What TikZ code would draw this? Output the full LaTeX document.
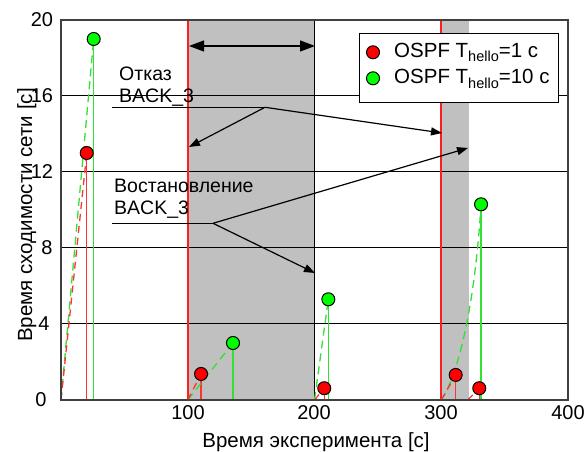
\documentclass[tikz,border=0pt]{standalone}
\usepackage{fontspec}
\setmainfont{Liberation Sans}
\usetikzlibrary{arrows.meta}

\definecolor{bandgray}{RGB}{192,192,192}
\definecolor{redline}{RGB}{255,50,50}
\definecolor{eventred}{RGB}{255,30,30}
\definecolor{greenline}{RGB}{50,225,50}
\definecolor{redmark}{RGB}{255,0,0}
\definecolor{greenmark}{RGB}{0,255,0}
\definecolor{framegray}{RGB}{64,64,64}

\newcommand{\hellosub}{\raisebox{-4.5pt}{\fontsize{14.5}{16}\selectfont hello}}

\tikzset{
  txt/.style={font=\fontsize{19.5}{23}\selectfont, inner sep=0pt},
  legtxt/.style={font=\fontsize{20.5}{24}\selectfont, inner sep=0pt},
  ticklbl/.style={font=\fontsize{20}{24}\selectfont, inner sep=0pt},
  axlbl/.style={font=\fontsize{20.5}{24}\selectfont, inner sep=0pt},
  gridln/.style={black, line width=1pt},
  eventln/.style={draw=eventred, line width=1.8pt},
  redstem/.style={redline, line width=1.3pt},
  greenstem/.style={greenline, line width=1.3pt},
  reddash/.style={redline, line width=1.3pt, dash pattern=on 7pt off 5pt},
  greendash/.style={greenline, line width=1.3pt, dash pattern=on 8pt off 5pt},
  redpt/.style={circle, draw=black, fill=redmark, line width=1pt, minimum size=13pt, inner sep=0pt},
  greenpt/.style={circle, draw=black, fill=greenmark, line width=1pt, minimum size=13pt, inner sep=0pt},
  ann/.style={black, line width=1.2pt},
  annarrow/.style={ann, -{Triangle[length=11pt,width=8pt]}},
}

\begin{document}
\begin{tikzpicture}[x=1pt,y=1pt]
\useasboundingbox (0,0) rectangle (586,452);

% ---------- plot area in data units (seconds, seconds) ----------
\begin{scope}[shift={(61pt,52pt)}, x=1.2675pt, y=19pt]
  % outage intervals
  \fill[bandgray] (100,0) rectangle (200,20);
  \fill[bandgray] (300,0) rectangle (322,20);

  % horizontal grid
  \foreach \v in {4,8,12,16} \draw[gridln] (0,\v) -- (400,\v);

  % base points of the series
  \coordinate (o0) at (0,0);
  \coordinate (o1) at (100,0);
  \coordinate (o2) at (200,0);
  \coordinate (o3) at (300,0);
  \coordinate (o4) at (321,0);
  \coordinate (e1) at (100,20);
  \coordinate (e2) at (200,20);
  \coordinate (e3) at (300,20);

  % failure / recovery instants
  \draw[eventln] (o1) -- (e1);
  \draw[eventln] (o3) -- (e3);
  \draw[black, line width=1pt] (o2) -- (e2);

  % marker positions
  \coordinate (r1) at (20.3,13);
  \coordinate (g1) at (25.8,19);
  \coordinate (r2) at (110.5,1.37);
  \coordinate (g2) at (135.7,3.0);
  \coordinate (r3) at (207.7,0.62);
  \coordinate (g3) at (210.9,5.3);
  \coordinate (r4) at (311.4,1.32);
  \coordinate (r5) at (330.0,0.62);
  \coordinate (g4) at (331.4,10.3);

  % stems
  \draw[redstem]   (r1) -- (r1 |- o0);
  \draw[greenstem] (g1) -- (g1 |- o0);
  \draw[redstem]   (r2) -- (r2 |- o0);
  \draw[greenstem] (g2) -- (g2 |- o0);
  \draw[redstem]   (r3) -- (r3 |- o0);
  \draw[greenstem] (g3) -- (g3 |- o0);
  \draw[redstem]   (r4) -- (r4 |- o0);
  \draw[redstem]   (r5) -- (r5 |- o0);
  \draw[greenstem] (g4) -- (g4 |- o0);

  % rising dashed traces
  \draw[greendash] (o0) -- (g1);
  \draw[reddash]   (o0) -- (r1);
  \draw[greendash] (o1) -- (g2);
  \draw[reddash]   (o1) -- (r2);
  \draw[greendash] (o2) -- (g3);
  \draw[reddash]   (o2) -- (r3);
  \draw[greendash] (o3) .. controls (312,1.2) and (326,4.5) .. (g4);
  \draw[reddash]   (o3) -- (r4);
  \draw[reddash]   (o4) -- (r5);

  % markers on top of the lines
  \foreach \n/\s in {r1/redpt, g1/greenpt, r2/redpt, g2/greenpt, r3/redpt,
                     g3/greenpt, r4/redpt, r5/redpt, g4/greenpt}
    \node[\s] (m\n) at (\n) {};

  % frame
  \draw[framegray, line width=1.3pt] (0,0) rectangle (400,20);
\end{scope}

% ---------- annotations, legend and labels in pixel units ----------
\begin{scope}[shift={(0pt,452pt)}, x=1pt, y=-1pt]
  % duration arrow
  \coordinate (da) at (189,46);
  \coordinate (db) at (315,46);
  \draw[ann, {Triangle[length=15pt,width=11pt]}-{Triangle[length=15pt,width=11pt]}] (da) -- (db);

  % failure note
  \node[txt, anchor=base west] (f1) at (119,81)  {Отказ};
  \node[txt, anchor=base west] (f2) at (119,103) {BACK\_3};
  \coordinate (fu0) at (112,107.3);
  \coordinate (fu1) at (265,107.3);
  \coordinate (fa) at (189,147);
  \coordinate (fb) at (442,133);
  \draw[ann] (fu0) -- (fu1);
  \draw[annarrow] (fu1) -- (fa);
  \draw[annarrow] (fu1) -- (fb);

  % recovery note
  \node[txt, anchor=base west] (v1) at (114,192.3) {Востановление};
  \node[txt, anchor=base west] (v2) at (114,215)   {BACK\_3};
  \coordinate (vu0) at (112,223.3);
  \coordinate (vu1) at (213,223.3);
  \coordinate (va) at (315,273);
  \coordinate (vb) at (468,148);
  \draw[ann] (vu0) -- (vu1);
  \draw[annarrow] (vu1) -- (va);
  \draw[annarrow] (vu1) -- (vb);

  % legend
  \node[draw=black, fill=white, line width=1pt, minimum width=199pt, minimum height=69pt,
        inner sep=0pt, anchor=north west] (leg) at (359,33) {};
  \node[redpt]   (lr) at (373,52.3) {};
  \node[greenpt] (lg) at (373,78.3) {};
  \node[legtxt, anchor=base west] (lt1) at (394,57.5) {OSPF T\hellosub=1 с};
  \node[legtxt, anchor=base west] (lt2) at (394,84) {OSPF T\hellosub=10 с};

  % y tick labels
  \node[ticklbl] (y20) at (42,20)  {20};
  \node[ticklbl] (y16) at (42,96)  {16};
  \node[ticklbl] (y12) at (42,172) {12};
  \node[ticklbl] (y8)  at (47,248) {8};
  \node[ticklbl] (y4)  at (44,324) {4};
  \node[ticklbl] (y0)  at (41,400) {0};

  % x tick labels
  \node[ticklbl] (x100) at (188,413) {100};
  \node[ticklbl] (x200) at (314,413) {200};
  \node[ticklbl] (x300) at (441,413) {300};
  \node[ticklbl] (x400) at (568,413) {400};

  % axis titles
  \node[axlbl, anchor=base] (xt) at (316,448) {Время эксперимента [с]};
  \node[axlbl, anchor=base, rotate=90] (yt) at (32,215) {Время сходимости сети [с]};
\end{scope}
\end{tikzpicture}
\end{document}
